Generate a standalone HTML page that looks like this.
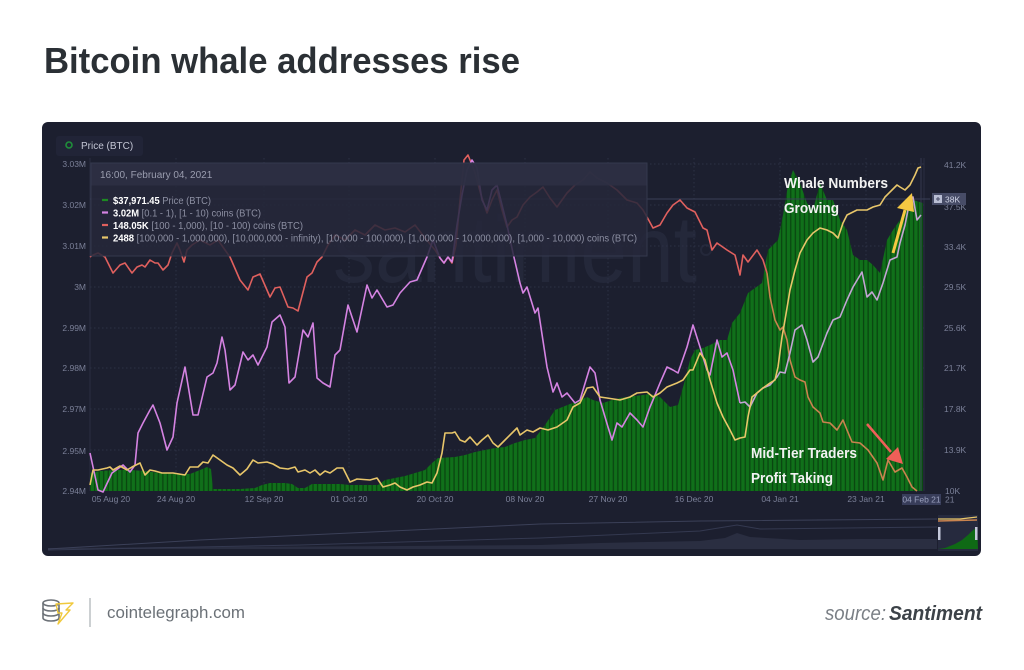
<!DOCTYPE html>
<html>
<head>
<meta charset="utf-8">
<style>
  html,body{margin:0;padding:0;background:#ffffff;}
  body{width:1024px;height:670px;overflow:hidden;}
  svg{display:block;}
  text{font-family:"Liberation Sans", sans-serif;}
</style>
</head>
<body>
<svg width="1024" height="670" viewBox="0 0 1024 670" xmlns="http://www.w3.org/2000/svg">
  <defs>
    <pattern id="bars" x="90" y="0" width="4.55" height="10" patternUnits="userSpaceOnUse">
      <rect width="4.55" height="10" fill="#094410"/>
      <rect x="0.7" width="3.3" height="10" fill="#10701a"/>
    </pattern>
    <clipPath id="navwin"><rect x="938" y="515" width="40" height="36"/></clipPath>
  </defs>

  <!-- Title -->
  <text x="44" y="73" font-size="36" font-weight="bold" fill="#2b3035" textLength="476" lengthAdjust="spacingAndGlyphs">Bitcoin whale addresses rise</text>

  <!-- Panel -->
  <rect x="42" y="122" width="939" height="434" rx="6" ry="6" fill="#1c1f2f"/>

  <!-- Legend chip -->
  <rect x="56" y="136" width="87" height="20" rx="3" fill="#212437"/>
  <circle cx="69" cy="145" r="3" fill="none" stroke="#1f8f3a" stroke-width="1.6"/>
  <text x="81" y="149" font-size="10" fill="#c3c6d4">Price (BTC)</text>

  <!-- Watermark -->
  <text x="333" y="282" font-size="95" fill="#24283a" textLength="364" lengthAdjust="spacingAndGlyphs">santiment</text>
  <circle cx="706" cy="250" r="5" fill="none" stroke="#24283a" stroke-width="2"/>

  <!-- Grid -->
  <g stroke="#2d3145" stroke-width="1" stroke-dasharray="1.5 2.5">
    <line x1="90" y1="164" x2="925" y2="164"/>
    <line x1="90" y1="205" x2="925" y2="205"/>
    <line x1="90" y1="246" x2="925" y2="246"/>
    <line x1="90" y1="287" x2="925" y2="287"/>
    <line x1="90" y1="328" x2="925" y2="328"/>
    <line x1="90" y1="368" x2="925" y2="368"/>
    <line x1="90" y1="409" x2="925" y2="409"/>
    <line x1="90" y1="450" x2="925" y2="450"/>
    <line x1="176" y1="158" x2="176" y2="491"/>
    <line x1="264" y1="158" x2="264" y2="491"/>
    <line x1="349" y1="158" x2="349" y2="491"/>
    <line x1="435" y1="158" x2="435" y2="491"/>
    <line x1="525" y1="158" x2="525" y2="491"/>
    <line x1="608" y1="158" x2="608" y2="491"/>
    <line x1="694" y1="158" x2="694" y2="491"/>
    <line x1="780" y1="158" x2="780" y2="491"/>
    <line x1="866" y1="158" x2="866" y2="491"/>
  </g>
  <line x1="90" y1="158" x2="90" y2="491" stroke="#2a2e42" stroke-width="1"/>
  <line x1="924" y1="158" x2="924" y2="491" stroke="#2a2e42" stroke-width="1"/>

  <!-- Price bars -->
  <polygon fill="url(#bars)" points="90,491 90,473 100,471 115,470 130,470 145,471 160,473 175,474 190,474 200,470 207,467 211,469 213,489 240,489 255,488 262,485 270,483 285,483 292,484 298,488 305,488 312,484 340,484 350,485 378,485 385,480 395,478 405,476 415,473 425,470 432,463 438,458 455,457 465,455 475,452 485,450 495,448 505,447 515,443 525,440 535,438 545,425 555,410 560,408 570,404 580,400 587,397 593,400 603,403 612,400 620,398 635,396 650,394 660,397 670,407 678,405 685,380 690,360 695,350 703,348 710,345 720,340 727,340 732,323 740,313 748,293 755,288 762,283 768,250 773,245 778,240 783,215 788,185 793,170 800,183 807,203 813,210 820,183 827,200 833,200 840,220 847,230 853,255 860,260 867,260 873,265 880,273 887,240 893,230 900,220 907,203 913,200 923,203 923,491"/>

  <!-- Crosshair -->
  <line x1="90" y1="199" x2="930" y2="199" stroke="#3a3f57" stroke-width="1"/>
  <line x1="921" y1="158" x2="921" y2="491" stroke="#33374d" stroke-width="1"/>

  <!-- Red line (100-1000) -->
  <polyline fill="none" stroke="#e0605e" stroke-width="1.6" stroke-linejoin="round" points="90,257 93,255 98,253 105,257 113,273 120,265 125,263 132,273 137,267 142,265 145,267 150,260 155,263 158,263 163,270 168,265 172,253 177,243 180,250 184,262 187,250 192,245 200,240 210,245 218,240 225,250 230,257 240,280 248,290 253,277 260,274 270,297 275,288 280,287 288,307 293,308 298,311 307,277 312,273 317,262 322,257 328,245 335,235 345,240 355,230 365,235 375,225 385,230 395,228 405,232 415,225 425,238 435,250 440,258 444,263 448,257 452,263 456,245 460,200 464,160 468,155 472,165 475,173 481,195 487,213 492,200 497,190 502,210 507,227 512,220 517,217 523,205 530,197 537,192 543,187 550,198 557,207 562,200 567,193 575,185 583,180 590,172 597,178 607,183 617,190 627,200 637,203 643,210 647,217 653,228 660,225 667,213 673,205 680,200 687,208 695,212 703,228 707,230 712,250 717,243 727,250 735,255 740,275 743,255 748,262 757,250 763,260 767,273"/>
  <polyline fill="none" stroke="#c9834f" stroke-width="1.6" stroke-linejoin="round" points="767,273 770,297 775,320 780,330 783,327 787,340 790,360 795,377 800,380 805,382 808,397 813,407 820,413 823,422 830,423 837,430 843,420 847,430 852,442 860,443 868,450 877,463 883,480 888,460 895,472 902,468 907,477 912,487 917,491"/>

  <!-- Pink line (0.1-10) -->
  <polyline fill="none" stroke="#d583e2" stroke-width="1.6" stroke-linejoin="round" points="90,453 98,490 103,492 112,473 123,465 130,472 135,465 138,433 143,423 150,410 153,405 160,423 167,450 173,437 177,403 185,367 193,415 198,415 207,377 213,373 217,363 222,337 225,350 230,390 235,385 243,352 248,360 253,355 258,365 267,347 272,322 280,315 285,327 289,383 295,377 303,330 308,337 313,323 317,378 323,383 330,387 335,355 340,350 348,305 357,332 367,285 372,298 377,290 387,307 393,305 400,293 410,282 417,280 427,257 433,240 440,258 444,263 448,257 452,262 457,225 462,195 467,170 472,160 477,168 482,200 487,210 492,190 497,185 502,205 507,225 513,253 520,283 523,293 527,287 535,313 538,308 547,367 553,392 557,383 562,397 567,393 575,403 580,400 590,367 595,373 600,400 608,427 612,440 617,423 622,427 630,413 637,420 643,427 650,407 653,400 660,383 667,367 673,370 678,373 687,347 693,325 700,347 707,370 710,375 717,340 722,357 727,353 733,370 740,403"/>
  <polyline fill="none" stroke="#c3a5d4" stroke-width="1.6" stroke-linejoin="round" points="740,403 745,402 750,407 757,393 763,388 770,385 777,377 780,372 785,373 790,353 795,330 802,325 807,340 813,362 818,357 827,333 833,320 840,317 847,300 853,287 862,272 867,297 872,292 877,300 883,283 890,260 897,257 900,243 905,225 910,200 913,197 917,220 921,215"/>

  <!-- Yellow line (whales) -->
  <polyline fill="none" stroke="#e8c66a" stroke-width="1.6" stroke-linejoin="round" points="90,485 93,470 98,470 107,468 110,467 113,470 120,466 127,470 132,467 140,463 145,475 150,470 155,471 162,473 173,473 185,475 190,467 198,467 203,462 208,463 213,455 220,460 227,465 233,468 240,475 247,469 253,460 258,463 267,462 273,464 280,468 288,469 295,467 298,472 305,470 310,473 315,470 320,475 325,471 330,473 337,468 343,468 350,482 357,479 370,480 377,478 383,487 390,485 395,483 400,487 407,490 413,487 420,485 427,482 432,483 437,473 442,453 445,433 452,433 455,432 460,440 465,442 470,437 477,445 482,440 488,435 493,443 498,447 505,440 512,433 517,428 520,435 527,430 533,432 540,428 548,430 557,427 567,420 573,407 580,403 587,388 593,387 600,397 607,398 620,400 630,397 637,393 647,392 653,397 660,393 667,387 677,383 683,380 690,370 693,370 700,353 705,360 710,380 717,403 723,417 730,430 735,440 740,438 745,437 748,417 752,397 757,393 763,388 770,383 775,380 778,367 782,337 785,320 790,290 795,270 800,253 807,240 813,233 820,228 827,230 833,233 838,238 843,223 847,215 857,210 867,210 873,207 880,205 885,197 892,190 897,185 900,187 905,190 910,185 915,175 918,168 921,167"/>

  <!-- Tooltip -->
  <rect x="91" y="163" width="556" height="93" fill="#25283a" fill-opacity="0.86" stroke="#34384d" stroke-width="1"/>
  <rect x="91.5" y="163.5" width="555" height="22" fill="#2d3044" fill-opacity="0.9"/>
  <text x="100" y="178" font-size="10" fill="#9a9daf">16:00, February 04, 2021</text>
  <g stroke-width="2.2">
    <line x1="102" y1="200" x2="108" y2="200" stroke="#1d8a22"/>
    <line x1="102" y1="212.5" x2="108" y2="212.5" stroke="#d583e2"/>
    <line x1="102" y1="225" x2="108" y2="225" stroke="#e0605e"/>
    <line x1="102" y1="237.5" x2="108" y2="237.5" stroke="#e8c66a"/>
  </g>
  <text x="113" y="204" font-size="10" fill="#8c8fa2" textLength="98" lengthAdjust="spacingAndGlyphs"><tspan fill="#ffffff" font-weight="bold">$37,971.45</tspan> Price (BTC)</text>
  <text x="113" y="216.5" font-size="10" fill="#8c8fa2" textLength="148" lengthAdjust="spacingAndGlyphs"><tspan fill="#ffffff" font-weight="bold">3.02M</tspan> [0.1 - 1), [1 - 10) coins (BTC)</text>
  <text x="113" y="229" font-size="10" fill="#8c8fa2" textLength="190" lengthAdjust="spacingAndGlyphs"><tspan fill="#ffffff" font-weight="bold">148.05K</tspan> [100 - 1,000), [10 - 100) coins (BTC)</text>
  <text x="113" y="241.5" font-size="10" fill="#8c8fa2" textLength="524" lengthAdjust="spacingAndGlyphs"><tspan fill="#ffffff" font-weight="bold">2488</tspan> [100,000  - 1,000,000), [10,000,000 - infinity), [10,000 - 100,000), [1,000,000 - 10,000,000), [1,000 - 10,000) coins (BTC)</text>

  <!-- Left axis -->
  <g font-size="8.5" fill="#7b8098" text-anchor="end">
    <text x="86" y="167">3.03M</text>
    <text x="86" y="208">3.02M</text>
    <text x="86" y="249">3.01M</text>
    <text x="86" y="290">3M</text>
    <text x="86" y="331">2.99M</text>
    <text x="86" y="371">2.98M</text>
    <text x="86" y="412">2.97M</text>
    <text x="86" y="454">2.95M</text>
    <text x="86" y="494">2.94M</text>
  </g>

  <!-- Right axis -->
  <g font-size="8.5" fill="#7b8098">
    <text x="944" y="168">41.2K</text>
    <text x="944" y="210">37.5K</text>
    <text x="944" y="250">33.4K</text>
    <text x="944" y="290">29.5K</text>
    <text x="944" y="331">25.6K</text>
    <text x="944" y="371">21.7K</text>
    <text x="944" y="412">17.8K</text>
    <text x="944" y="453">13.9K</text>
    <text x="945" y="494">10K</text>
  </g>
  <rect x="932" y="193" width="34" height="12" fill="#474c67"/>
  <rect x="934" y="195" width="8" height="8" fill="#b9bed4"/>
  <line x1="936" y1="199" x2="940" y2="199" stroke="#474c67" stroke-width="1"/>
  <line x1="938" y1="197" x2="938" y2="201" stroke="#474c67" stroke-width="1"/>
  <text x="945" y="202.5" font-size="8.5" fill="#d0d4e6">38K</text>

  <!-- X axis -->
  <g font-size="8.5" fill="#7b8098" text-anchor="middle">
    <text x="111" y="502">05 Aug 20</text>
    <text x="176" y="502">24 Aug 20</text>
    <text x="264" y="502">12 Sep 20</text>
    <text x="349" y="502">01 Oct 20</text>
    <text x="435" y="502">20 Oct 20</text>
    <text x="525" y="502">08 Nov 20</text>
    <text x="608" y="502">27 Nov 20</text>
    <text x="694" y="502">16 Dec 20</text>
    <text x="780" y="502">04 Jan 21</text>
    <text x="866" y="502">23 Jan 21</text>
  </g>
  <rect x="902" y="494" width="39" height="11" fill="#383d5a"/>
  <text x="921.5" y="502.5" font-size="8.5" fill="#9aa0bd" text-anchor="middle">04 Feb 21</text>
  <text x="945" y="502.5" font-size="8.5" fill="#7b8098">21</text>

  <!-- Annotations -->
  <g font-weight="bold" fill="#f2f2f2">
    <text x="784" y="188" font-size="14.5" textLength="104" lengthAdjust="spacingAndGlyphs">Whale Numbers</text>
    <text x="784" y="213" font-size="14.5" textLength="55" lengthAdjust="spacingAndGlyphs">Growing</text>
    <text x="751" y="458" font-size="14.5" textLength="106" lengthAdjust="spacingAndGlyphs">Mid-Tier Traders</text>
    <text x="751" y="483" font-size="14.5" textLength="82" lengthAdjust="spacingAndGlyphs">Profit Taking</text>
  </g>
  <!-- Yellow arrow -->
  <line x1="893" y1="253" x2="905" y2="210" stroke="#f5c842" stroke-width="3"/>
  <polygon points="897,208 912,193 914,212" fill="#f5c842"/>
  <!-- Red arrow -->
  <line x1="867" y1="424" x2="891" y2="452" stroke="#ef5f58" stroke-width="2.5"/>
  <polygon points="886,459 898,447 903,464" fill="#ef5f58"/>

  <!-- Navigator -->
  <polygon fill="#2a2e41" points="48,549 48,548 200,547 400,546 540,545 600,543 700,541 725,538 737,533 750,537 800,540 860,539 937,539 937,549"/>
  <polyline fill="none" stroke="#3b4058" stroke-width="1" points="48,549 200,540 350,533 540,524 700,521 937,519"/>
  <polyline fill="none" stroke="#343950" stroke-width="1" points="48,550 300,545 540,538 700,531 737,525 760,529 937,527"/>
  <rect x="938" y="515" width="40" height="36" fill="#262a3e"/>
  <g clip-path="url(#navwin)">
    <polygon fill="#0f6a15" points="938,549 945,548 955,544 962,540 968,535 972,531 977,527 978,549"/>
    <polyline fill="none" stroke="#c9834f" stroke-width="1.5" points="938,521 977,520"/>
    <polyline fill="none" stroke="#e8c66a" stroke-width="1.2" points="938,519 960,519 977,517"/>
  </g>
  <rect x="938" y="527" width="2.5" height="13" fill="#c4c8da"/>
  <rect x="975" y="527" width="2.5" height="13" fill="#c4c8da"/>

  <!-- Footer logo -->
  <g fill="none" stroke="#6d7278" stroke-width="1.6">
    <ellipse cx="51" cy="603" rx="8" ry="3"/>
    <path d="M43,603 v5 a8,3 0 0 0 16,0 v-5"/>
    <path d="M43,608 v5 a8,3 0 0 0 16,0 v-5"/>
    <path d="M43,613 v5 a8,3 0 0 0 16,0 v-5"/>
  </g>
  <path d="M56,604 L73,603 L66,610 L70,610 L58,624 L62,613 L58,613 Z" fill="none" stroke="#f0c93c" stroke-width="1.4" stroke-linejoin="round"/>
  <line x1="90" y1="598" x2="90" y2="627" stroke="#9aa0a6" stroke-width="1"/>
  <text x="107" y="618" font-size="17" fill="#6b7177" textLength="138" lengthAdjust="spacingAndGlyphs">cointelegraph.com</text>

  <text x="825" y="620" font-size="20" font-style="italic" fill="#7a7f85" textLength="61" lengthAdjust="spacingAndGlyphs">source:</text>
  <text x="889" y="620" font-size="20" font-style="italic" font-weight="bold" fill="#3c4248" textLength="93" lengthAdjust="spacingAndGlyphs">Santiment</text>
</svg>
</body>
</html>
